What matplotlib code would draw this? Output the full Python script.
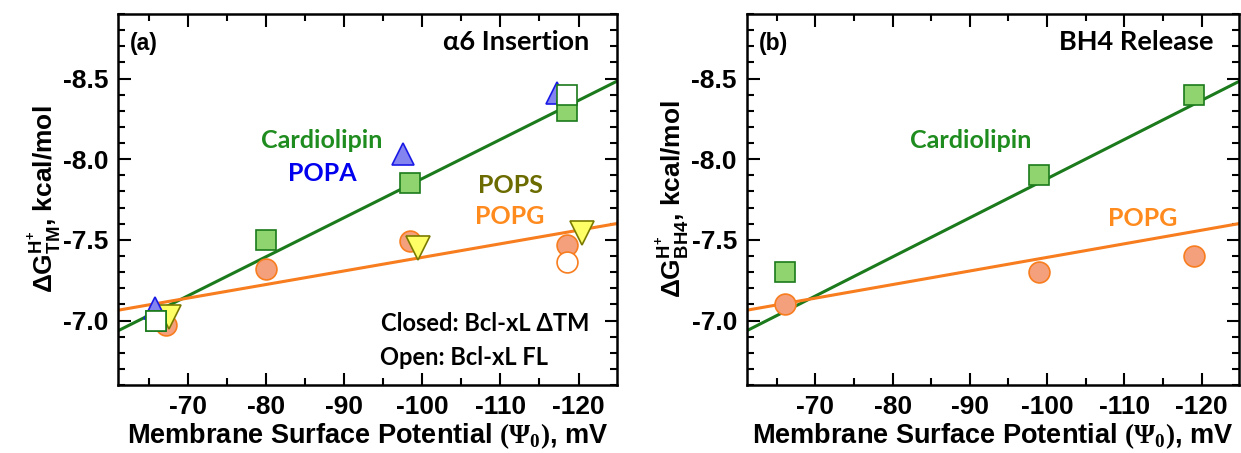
import matplotlib
matplotlib.use("Agg")
import matplotlib.pyplot as plt
from matplotlib.ticker import MultipleLocator

plt.rcParams['font.family'] = ['Liberation Sans', 'DejaVu Sans']
plt.rcParams['font.weight'] = 'bold'
plt.rcParams['mathtext.fontset'] = 'custom'
plt.rcParams['mathtext.rm'] = 'Liberation Serif'
plt.rcParams['mathtext.bf'] = 'Liberation Sans:bold'

# panel (a): alpha6 insertion
card_x = [-66, -80, -98.5, -118.5]
card_y = [-7.0, -7.5, -7.85, -8.3]
card_fl_x = [-66, -118.5]
card_fl_y = [-7.0, -8.4]
popa_x = [-65.8, -97.5, -117.2]
popa_y = [-7.08, -8.03, -8.41]
popg_x = [-67.2, -80, -98.5, -118.5]
popg_y = [-6.97, -7.32, -7.49, -7.47]
popg_fl_x = [-118.5]
popg_fl_y = [-7.36]
pops_x = [-67.6, -99.5, -120.5]
pops_y = [-7.02, -7.45, -7.54]

# panel (b): BH4 release
card_b_x = [-66, -99, -119]
card_b_y = [-7.3, -7.9, -8.4]
popg_b_x = [-66, -99, -119]
popg_b_y = [-7.1, -7.3, -7.4]

# fitted lines (same in both panels)
fit_x = [-61, -125]
card_fit_y = [-6.934, -8.486]
popg_fit_y = [-7.063, -7.602]

x_ticks = [-70, -80, -90, -100, -110, -120]
y_ticks = [-7.0, -7.5, -8.0, -8.5]

GREEN = '#1b7a1b'
GREEN_FILL = '#8fd46e'
ORANGE = '#f77d1e'
ORANGE_FILL = '#f5a07c'
BLUE = '#1a1ae6'
BLUE_FILL = '#8484f0'
OLIVE = '#7a7a00'
YELLOW = '#ffff66'

lab_font = ['Lato', 'Noto Sans', 'DejaVu Sans']

fig = plt.figure(figsize=(12.41, 4.53), dpi=100)
ax1 = fig.add_axes([0.0951, 0.150, 0.402, 0.819])
ax2 = fig.add_axes([0.6017, 0.150, 0.397, 0.819])


def style(ax, ylab):
    ax.set_xlim(-61.1, -124.9)
    ax.set_ylim(-6.6, -8.9)
    ax.set_xticks(x_ticks)
    ax.set_yticks(y_ticks)
    ax.set_xticklabels([str(v) for v in x_ticks])
    ax.set_yticklabels(['%.1f' % v for v in y_ticks])
    ax.xaxis.set_minor_locator(MultipleLocator(5))
    ax.yaxis.set_minor_locator(MultipleLocator(0.1))
    ax.tick_params(which='both', direction='in', top=True, right=True, width=1.5,
                   labelsize=19, pad=7)
    ax.tick_params(which='major', length=9)
    ax.tick_params(which='minor', length=5)
    for s in ax.spines.values():
        s.set_linewidth(1.8)
    ax.set_xlabel(r'Membrane Surface Potential $(\Psi_0)$, mV', fontsize=19.5,
                  fontweight='bold', labelpad=2)
    ax.set_ylabel(ylab, fontsize=19, fontweight='bold', labelpad=0)


# left panel
ax1.plot(fit_x, card_fit_y, color=GREEN, lw=2.2, zorder=2)
ax1.plot(fit_x, popg_fit_y, color=ORANGE, lw=2.2, zorder=2)
ax1.plot(popg_x, popg_y, 'o', ms=15, mfc=ORANGE_FILL, mec=ORANGE, mew=1.2, zorder=3)
ax1.plot(popg_fl_x, popg_fl_y, 'o', ms=15, mfc='white', mec=ORANGE, mew=1.2, zorder=3)
ax1.plot(pops_x, pops_y, 'v', ms=17, mfc=YELLOW, mec=OLIVE, mew=1.2, zorder=4)
ax1.plot(popa_x, popa_y, '^', ms=16, mfc=BLUE_FILL, mec=BLUE, mew=1.2, zorder=4)
ax1.plot(card_x, card_y, 's', ms=14, mfc=GREEN_FILL, mec=GREEN, mew=1.2, zorder=5)
ax1.plot(card_fl_x, card_fl_y, 's', ms=14, mfc='white', mec=GREEN, mew=1.2, zorder=6)

ax1.text(0.024, 0.92, '(a)', transform=ax1.transAxes, fontsize=16.5,
         fontweight='bold', va='center', ha='left')
ax1.text(0.944, 0.925, 'α6 Insertion', transform=ax1.transAxes, fontsize=19.5,
         fontweight='bold', va='center', ha='right', family=lab_font)
ax1.text(0.409, 0.66, 'Cardiolipin', transform=ax1.transAxes, fontsize=18,
         fontweight='bold', color='#1f8c1f', va='center', ha='center', family=lab_font)
ax1.text(0.41, 0.571, 'POPA', transform=ax1.transAxes, fontsize=18,
         fontweight='bold', color='#0000ee', va='center', ha='center', family=lab_font)
ax1.text(0.786, 0.539, 'POPS', transform=ax1.transAxes, fontsize=18,
         fontweight='bold', color='#6b6b00', va='center', ha='center', family=lab_font)
ax1.text(0.786, 0.453, 'POPG', transform=ax1.transAxes, fontsize=18,
         fontweight='bold', color='#ff8a1e', va='center', ha='center', family=lab_font)
ax1.text(0.944, 0.167, 'Closed: Bcl-xL ΔTM', transform=ax1.transAxes, fontsize=17,
         fontweight='bold', va='center', ha='right', family=lab_font)
ax1.text(0.525, 0.075, 'Open: Bcl-xL FL', transform=ax1.transAxes, fontsize=17,
         fontweight='bold', va='center', ha='left', family=lab_font)

style(ax1, r'$\mathbf{\Delta G}^{\mathbf{H}^{\mathbf{+}}}_{\mathbf{TM}}$, kcal/mol')

# right panel
ax2.plot(fit_x, card_fit_y, color=GREEN, lw=2.2, zorder=2)
ax2.plot(fit_x, popg_fit_y, color=ORANGE, lw=2.2, zorder=2)
ax2.plot(popg_b_x, popg_b_y, 'o', ms=15, mfc=ORANGE_FILL, mec=ORANGE, mew=1.2, zorder=3)
ax2.plot(card_b_x, card_b_y, 's', ms=14, mfc=GREEN_FILL, mec=GREEN, mew=1.2, zorder=5)

ax2.text(0.024, 0.92, '(b)', transform=ax2.transAxes, fontsize=16.5,
         fontweight='bold', va='center', ha='left')
ax2.text(0.948, 0.925, 'BH4 Release', transform=ax2.transAxes, fontsize=19.5,
         fontweight='bold', va='center', ha='right', family=lab_font)
ax2.text(0.454, 0.66, 'Cardiolipin', transform=ax2.transAxes, fontsize=18,
         fontweight='bold', color='#1f8c1f', va='center', ha='center', family=lab_font)
ax2.text(0.803, 0.45, 'POPG', transform=ax2.transAxes, fontsize=18,
         fontweight='bold', color='#ff8a1e', va='center', ha='center', family=lab_font)

style(ax2, r'$\mathbf{\Delta G}^{\mathbf{H}^{\mathbf{+}}}_{\mathbf{BH4}}$, kcal/mol')

fig.savefig('out.png', dpi=100)
